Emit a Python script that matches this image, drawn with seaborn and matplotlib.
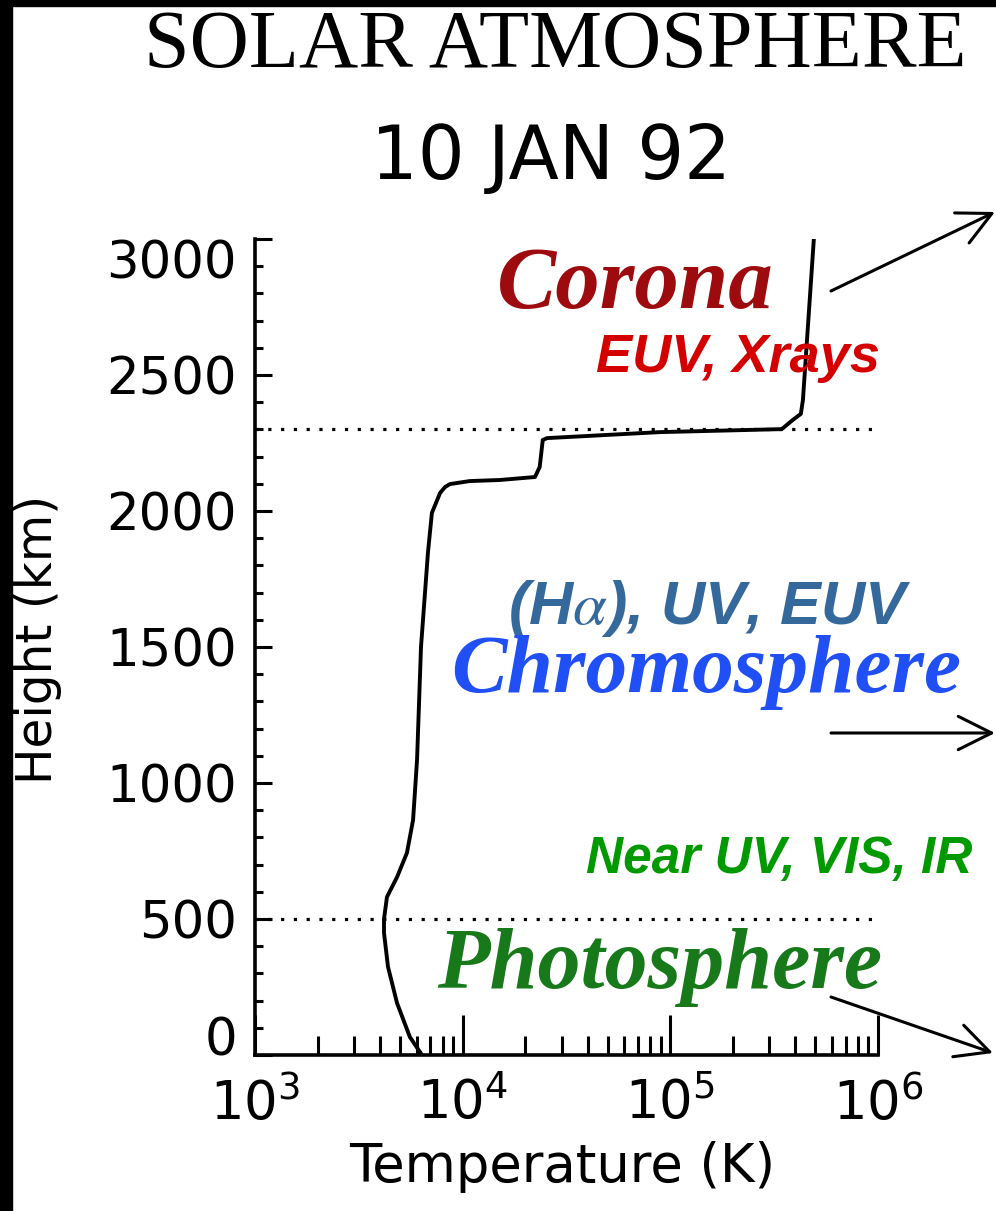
"""Solar atmosphere temperature profile (10 JAN 92) redrawn with seaborn."""
import matplotlib

matplotlib.use("Agg")
import matplotlib.pyplot as plt
from matplotlib.patches import Rectangle
from matplotlib.ticker import MultipleLocator, LogLocator
import seaborn as sns
import pandas as pd

# height above the photosphere (km) and temperature (K)
height_km = [0, 66, 191, 324, 449, 500, 581, 654, 743, 864, 1085, 1500,
             1850, 1993, 2066, 2088, 2099, 2110, 2114, 2125, 2162, 2261,
             2268, 2290, 2301, 2335, 2357, 2408, 3000]
temp_K = [6370, 5570, 4830, 4370, 4180, 4180, 4320, 4830, 5390, 5770, 6030,
          6300, 6810, 7110, 7780, 8220, 8690, 10800, 15100, 22300, 23500,
          24300, 25500, 89100, 344000, 389000, 425000, 435000, 491000]

boundary_km = [2300, 500]          # dotted layer boundaries
y_ticks = [0, 500, 1000, 1500, 2000, 2500, 3000]

W, H = 996, 1211


def fpos(x, y):
    """pixel position (from top-left) -> figure fraction"""
    return x / W, 1 - y / H


sns.set_style("ticks")
plt.rcParams["font.family"] = ["DejaVu Sans"]
plt.rcParams["mathtext.fontset"] = "dejavusans"
for key in ("text.color", "axes.labelcolor", "xtick.color", "ytick.color",
            "axes.edgecolor"):
    plt.rcParams[key] = "black"

fig = plt.figure(figsize=(W / 100, H / 100), dpi=100)
ax = fig.add_axes([255 / W, 156 / H, 623 / W, 816 / H])

df = pd.DataFrame({"T": temp_K, "h": height_km})
sns.lineplot(data=df, x="T", y="h", sort=False, estimator=None,
             color="black", lw=2.8, ax=ax)
for hb in boundary_km:
    ax.hlines(hb, 1e3, 1e6, colors="black", lw=2.3, linestyles=(0, (1, 3)))

ax.set_xscale("log")
ax.set_xlim(1e3, 1e6)
ax.set_ylim(0, 3000)
ax.set_yticks(y_ticks)
ax.yaxis.set_minor_locator(MultipleLocator(100))
ax.xaxis.set_major_locator(LogLocator(base=10))
ax.xaxis.set_minor_locator(LogLocator(base=10, subs=range(2, 10)))

sns.despine(ax=ax)
for side in ("left", "bottom"):
    ax.spines[side].set_linewidth(2.6)
ax.tick_params(axis="y", which="major", direction="in", length=12, width=2.2,
               labelsize=37, pad=13)
ax.tick_params(axis="y", which="minor", direction="in", length=6, width=2.2)
ax.tick_params(axis="x", which="major", direction="in", length=29, width=2.2,
               labelsize=38, pad=16)
ax.tick_params(axis="x", which="minor", direction="in", length=14, width=2.2)

# the end labels sit inside the axis range, as in the original
ylabels = ax.get_yticklabels()
ylabels[0].set_va("baseline")
ylabels[-1].set_va("top")

ax.set_xlabel("Temperature (K)", fontsize=38)
ax.set_ylabel("Height (km)", fontsize=35)
ax.xaxis.set_label_coords(0.493, -0.105)
ax.yaxis.set_label_coords(-0.31, 0.509)

# titles
fig.text(*fpos(555, 47), "SOLAR ATMOSPHERE", family="Liberation Serif",
         fontsize=59, ha="center", va="center")
fig.text(*fpos(551, 158), "10 JAN 92", fontsize=53, ha="center", va="center")

# layer names and wavebands
serif = dict(family="Liberation Serif", weight="bold", style="italic",
             ha="center", va="baseline")
sans = dict(family="Liberation Sans", weight="bold", style="italic",
            ha="center", va="baseline")
fig.text(*fpos(635, 308), "Corona", color="#9e0b0f", fontsize=64, **serif)
fig.text(*fpos(738, 372), "EUV, Xrays", color="#d40000", fontsize=39, **sans)
fig.text(*fpos(710, 624), r"(H$\alpha$), UV, EUV", color="#36699b",
         fontsize=44, math_fontfamily="stix", **sans)
fig.text(*fpos(706, 692), "Chromosphere", color="#1f4ff5", fontsize=60, **serif)
fig.text(*fpos(779, 873), "Near UV, VIS, IR", color="#009900", fontsize=37,
         **sans)
fig.text(*fpos(660, 988), "Photosphere", color="#17791a", fontsize=62, **serif)

# arrows pointing off to the right
arrow_style = dict(arrowstyle="->,head_length=0.6,head_width=0.3", lw=2.2,
                   color="black", mutation_scale=40, shrinkA=0, shrinkB=0)
for start, end in [((831, 291), (995, 212)), ((831, 733), (995, 733)),
                   ((831, 997), (993, 1053))]:
    ax.annotate("", xy=fpos(*end), xytext=fpos(*start),
                xycoords="figure fraction", textcoords="figure fraction",
                arrowprops=arrow_style, annotation_clip=False)

# black frame edges of the original screenshot
fig.patches.append(Rectangle((0, 0), 12 / W, 1, transform=fig.transFigure,
                             color="black", zorder=10))
fig.patches.append(Rectangle((0, 1 - 6 / H), 1, 6 / H,
                             transform=fig.transFigure, color="black",
                             zorder=10))

fig.savefig("out.png", dpi=100)
